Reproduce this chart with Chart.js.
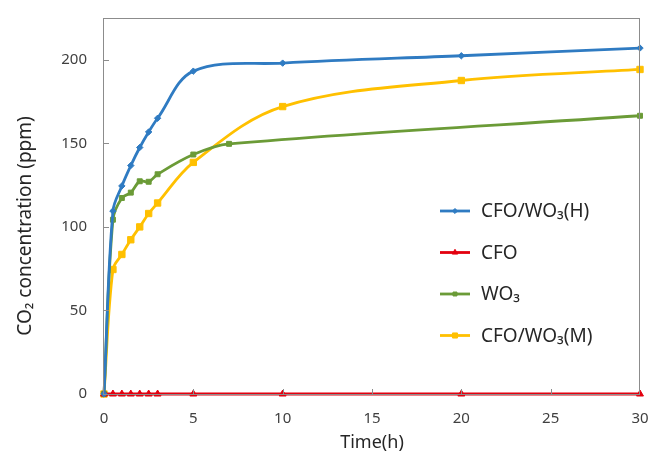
<!DOCTYPE html>
<html>
<head>
<meta charset="utf-8">
<script src="https://cdn.jsdelivr.net/npm/chart.js@4.4.1/dist/chart.umd.min.js"></script>
<style>
  html, body { margin: 0; padding: 0; background: #fff; }
  #wrap { width: 654px; height: 456px; }
</style>
</head>
<body>
<div id="wrap"><canvas id="co2Chart" width="654" height="456"></canvas></div>
<script>
/* CO2 evolution vs time for CFO / WO3 photocatalysts. */

// ---- Data ----
const timeH   = [0, 0.5, 1, 1.5, 2, 2.5, 3, 5, 10, 20, 30];
const timeWO3 = [0, 0.5, 1, 1.5, 2, 2.5, 3, 5, 7, 30];
const cfoWo3H = [0, 109.5, 124.5, 136.7, 147.5, 156.8, 165, 193.2, 198, 202.4, 207];
const cfo     = [0, 0, 0, 0, 0, 0, 0, 0, 0, 0, 0];
const wo3     = [0, 104.3, 117.3, 120.5, 127.3, 127, 131.5, 143.3, 149.7, 166.5];
const cfoWo3M = [0, 74.5, 83.5, 92.3, 100, 108, 114.3, 138.6, 172, 187.6, 194.2];
const seriesLabels = ["CFO/WO₃(H)", "CFO", "WO₃", "CFO/WO₃(M)"];
const xTicks = [0, 5, 10, 15, 20, 25, 30];
const yTicks = [0, 50, 100, 150, 200];
const yTitle = "CO₂ concentration (ppm)";

const FONT = "'Noto Sans', 'Open Sans', sans-serif";
const AXIS_GREY = "#8c8c8c";
const TEXT = "#262626";
const pts = (xs, ys) => xs.map((x, i) => ({ x, y: ys[i] }));

function series(label, xs, ys, color, pointStyle, radius) {
  return {
    label, data: pts(xs, ys), borderColor: color, backgroundColor: color,
    borderWidth: 2.8, pointStyle, pointRadius: radius, pointBorderWidth: 1,
    tension: 0.35, clip: false,
  };
}

// ---- Plugins: frame, inside tick marks, y title, legend ----
const frame = {
  id: "frame",
  afterDraw(chart) {
    const { ctx, chartArea: a, scales } = chart;
    ctx.save();
    ctx.strokeStyle = AXIS_GREY;
    ctx.lineWidth = 1;
    ctx.strokeRect(Math.round(a.left) - 0.5, Math.round(a.top) + 0.5,
      Math.round(a.right - a.left), Math.round(a.bottom - a.top));
    ctx.beginPath();
    xTicks.slice(1, -1).forEach((v) => {
      const x = Math.round(scales.x.getPixelForValue(v)) + 0.5;
      ctx.moveTo(x, a.bottom); ctx.lineTo(x, a.bottom - 5);
    });
    yTicks.slice(1).forEach((v) => {
      const y = Math.round(scales.y.getPixelForValue(v)) + 0.5;
      ctx.moveTo(a.left, y); ctx.lineTo(a.left + 5, y);
    });
    ctx.stroke();

    // y title sits a bit below the plot's middle in the original
    ctx.translate(26, 226);
    ctx.rotate(-Math.PI / 2);
    ctx.fillStyle = TEXT;
    ctx.font = "19px " + FONT;
    ctx.textAlign = "center";
    ctx.textBaseline = "middle";
    ctx.fillText(yTitle, 0, 0);
    ctx.restore();
  },
};

const sideLegend = {
  id: "sideLegend",
  afterDraw(chart) {
    const ctx = chart.ctx;
    const x0 = 440, x1 = 470, textX = 481, top = 211, gap = 41.5;
    ctx.save();
    chart.data.datasets.forEach((ds, i) => {
      const y = top + i * gap;
      ctx.strokeStyle = ds.borderColor;
      ctx.fillStyle = ds.borderColor;
      ctx.lineWidth = 2.8;
      ctx.beginPath(); ctx.moveTo(x0, y); ctx.lineTo(x1, y); ctx.stroke();
      ctx.lineWidth = 1;
      Chart.helpers.drawPoint(ctx, { pointStyle: ds.pointStyle, radius: ds.pointRadius * 0.8, rotation: 0, borderWidth: 1 }, (x0 + x1) / 2, y);
      ctx.fillStyle = TEXT;
      ctx.font = "19px " + FONT;
      ctx.textBaseline = "middle";
      ctx.fillText(ds.label, textX, y + 1);
    });
    ctx.restore();
  },
};

// no extra room for overhanging tick labels: the frame is placed by layout padding
const noOverhang = (s) => { s.paddingTop = 0; s.paddingBottom = 0; s.paddingLeft = 0; s.paddingRight = 0; };

// ---- Chart ----
new Chart(document.getElementById("co2Chart").getContext("2d"), {
  type: "line",
  data: {
    datasets: [
      series(seriesLabels[0], timeH, cfoWo3H, "#2f7bc2", "rectRot", 3.2),
      series(seriesLabels[1], timeH, cfo, "#e3000f", "triangle", 4),
      series(seriesLabels[2], timeWO3, wo3, "#6b9b37", "rect", 3.5),
      series(seriesLabels[3], timeH, cfoWo3M, "#ffc000", "rect", 4.5),
    ],
  },
  options: {
    responsive: false, animation: false,
    layout: { padding: { top: 18, right: 14, left: 0, bottom: 0 } },
    plugins: { legend: { display: false }, tooltip: { enabled: false } },
    scales: {
      x: {
        type: "linear", min: 0, max: 30,
        grid: { display: false, drawTicks: false }, border: { display: false },
        afterBuildTicks: (s) => { s.ticks = xTicks.map((v) => ({ value: v })); },
        ticks: { padding: 16, color: "#404040", font: { family: FONT, size: 15 }, maxRotation: 0 },
        title: { display: true, text: "Time(h)", color: TEXT, font: { family: FONT, size: 18 }, padding: { bottom: 2 } },
        afterFit: (s) => { s.height = 62; noOverhang(s); },
      },
      y: {
        type: "linear", min: 0, max: 225,
        grid: { display: false, drawTicks: false }, border: { display: false },
        afterBuildTicks: (s) => { s.ticks = yTicks.map((v) => ({ value: v })); },
        ticks: { padding: 17, color: "#404040", font: { family: FONT, size: 15 } },
        afterFit: (s) => { s.width = 104; noOverhang(s); },
      },
    },
  },
  plugins: [frame, sideLegend],
});
</script>
</body>
</html>
